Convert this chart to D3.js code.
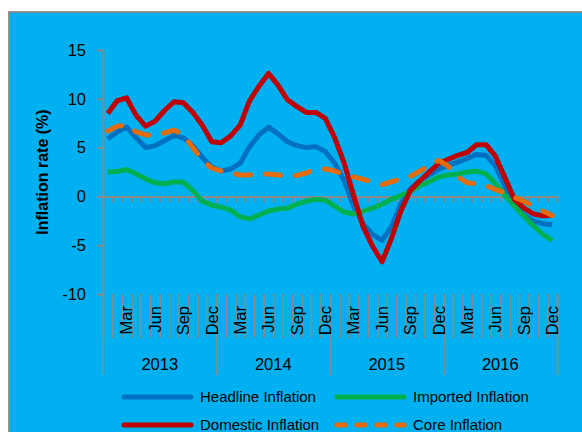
<!DOCTYPE html>
<html>
<head>
<meta charset="utf-8">
<script src="https://cdn.jsdelivr.net/npm/d3@7"></script>
<style>
  body { margin: 0; background: #fff; }
  svg { display: block; font-family: "Liberation Sans", Arial, sans-serif; }
</style>
</head>
<body>
<div id="chart"></div>
<script>
"use strict";

const width = 582,
      height = 432;

// categories: monthly, Jan 2013 .. Dec 2016
const years = [2013, 2014, 2015, 2016];
const monthNames = ["Jan", "Feb", "Mar", "Apr", "May", "Jun", "Jul", "Aug", "Sep", "Oct", "Nov", "Dec"];
const shownMonths = ["Mar", "Jun", "Sep", "Dec"];
const yTicks = [-10, -5, 0, 5, 10, 15];

const headline = [5.9, 6.6, 7.1, 6.0, 5.0, 5.2, 5.7, 6.25, 6.0, 5.2, 4.0, 3.0,
                  2.6, 2.8, 3.4, 5.1, 6.3, 7.1, 6.4, 5.6, 5.2, 5.0, 5.1, 4.6,
                  3.4, 1.6, -1.0, -2.8, -3.9, -4.5, -3.1, -0.7, 0.8, 1.6, 2.2, 2.8,
                  3.2, 3.5, 3.9, 4.3, 4.2, 3.1, 1.0, -0.7, -1.9, -2.5, -2.8, -2.9];
const imported = [2.5, 2.55, 2.75, 2.3, 1.8, 1.4, 1.3, 1.5, 1.45, 0.6, -0.5, -0.9,
                  -1.1, -1.4, -2.1, -2.3, -1.9, -1.5, -1.3, -1.2, -0.8, -0.5, -0.3, -0.4,
                  -1.0, -1.6, -1.8, -1.5, -1.2, -0.8, -0.3, 0.1, 0.5, 1.1, 1.5, 2.0,
                  2.2, 2.3, 2.5, 2.6, 2.3, 1.3, 0.1, -1.0, -2.0, -3.0, -3.9, -4.5];
const domestic = [8.5, 9.8, 10.1, 8.3, 7.2, 7.7, 8.8, 9.7, 9.6, 8.6, 7.3, 5.6,
                  5.5, 6.2, 7.3, 9.8, 11.3, 12.6, 11.4, 9.9, 9.2, 8.6, 8.6, 8.0,
                  6.0, 3.4, 0.1, -3.1, -5.1, -6.7, -4.3, -1.5, 0.6, 1.6, 2.5, 3.4,
                  3.8, 4.2, 4.5, 5.3, 5.3, 4.1, 1.9, -0.3, -1.2, -1.8, -2.0, -1.9];
const core = [6.7, 7.2, 7.3, 6.6, 6.3, 6.3, 6.5, 6.8, 6.3, 5.0, 3.7, 2.9,
              2.6, 2.4, 2.2, 2.2, 2.25, 2.3, 2.2, 2.05, 2.15, 2.4, 2.8, 2.8,
              2.6, 2.25, 2.0, 1.75, 1.45, 1.2, 1.5, 1.8, 2.05, 2.6, 3.2, 3.7,
              3.1, 2.0, 1.4, 1.3, 1.1, 0.7, 0.35, -0.1, -0.5, -1.0, -1.5, -1.95];

const categories = years.flatMap(y => monthNames.map(m => m + " " + y));

const series = [
  { name: "Headline Inflation", values: headline, color: "#0070C0", dash: null },
  { name: "Imported Inflation", values: imported, color: "#00B050", dash: null },
  { name: "Domestic Inflation", values: domestic, color: "#C00000", dash: null },
  { name: "Core Inflation", values: core, color: "#E46C0A", dash: "15,15" }
];

const axisColor = "#8a8a8a";
const plot = { left: 103, right: 557, top: 50, bottom: 294 };

const svg = d3.select("#chart")
  .append("svg")
  .attr("width", width)
  .attr("height", height);

// chart area background with grey frame
svg.append("rect")
  .attr("x", 9)
  .attr("y", 12)
  .attr("width", width + 20)
  .attr("height", height + 20)
  .attr("fill", "#00B0F0")
  .attr("stroke", axisColor)
  .attr("stroke-width", 1.8);

const x = d3.scaleBand()
  .domain(categories)
  .range([plot.left, plot.right])
  .padding(0);

// boundary scale, for tick marks between categories
const xb = d3.scaleLinear()
  .domain([0, categories.length])
  .range([plot.left, plot.right]);

const y = d3.scaleLinear()
  .domain([-10, 15])
  .range([plot.bottom, plot.top]);

// y axis (plain hyphen for negatives, like the original)
const yAxis = svg.append("g")
  .attr("transform", `translate(${plot.left},0)`)
  .call(d3.axisLeft(y).tickValues(yTicks).tickFormat(d => String(d))
    .tickSize(6).tickPadding(11).tickSizeOuter(0));
yAxis.select(".domain").attr("stroke", axisColor).attr("stroke-width", 2);
yAxis.selectAll(".tick line").attr("stroke", axisColor).attr("stroke-width", 2);
yAxis.selectAll(".tick text")
  .attr("fill", "#000")
  .style("font-size", "16.5px")
  .style("font-family", "'Liberation Sans', Arial, sans-serif");

// horizontal axis line at zero with small ticks
const xAxis = svg.append("g")
  .attr("transform", `translate(0,${y(0)})`)
  .call(d3.axisBottom(xb).tickValues(d3.range(categories.length + 1)).tickSize(6).tickFormat("").tickSizeOuter(0));
xAxis.select(".domain").attr("stroke", axisColor).attr("stroke-width", 2);
xAxis.selectAll(".tick line").attr("stroke", axisColor).attr("stroke-width", 1.6);

// lower category separators (months)
const lowAxis = svg.append("g")
  .attr("transform", `translate(0,${plot.bottom})`)
  .call(d3.axisBottom(xb).tickValues(d3.range(categories.length + 1)).tickSize(44).tickFormat(""));
lowAxis.select(".domain").remove();
lowAxis.selectAll(".tick line").attr("stroke", axisColor).attr("stroke-width", 1.6);

// year separators
const yearAxis = svg.append("g")
  .attr("transform", `translate(0,${plot.bottom})`)
  .call(d3.axisBottom(xb).tickValues(d3.range(0, categories.length + 1, 12)).tickSize(81).tickFormat(""));
yearAxis.select(".domain").remove();
yearAxis.selectAll(".tick line").attr("stroke", axisColor).attr("stroke-width", 1.6);

// month labels (rotated)
svg.append("g")
  .selectAll("text")
  .data(categories.filter(c => shownMonths.includes(c.split(" ")[0])))
  .join("text")
    .attr("transform", d => `translate(${x(d) + x.bandwidth() / 2},306) rotate(-90)`)
    .attr("text-anchor", "end")
    .attr("dy", "0.35em")
    .attr("fill", "#000")
    .style("font-size", "16.5px")
    .text(d => d.split(" ")[0]);

// year labels
svg.append("g")
  .selectAll("text")
  .data(years)
  .join("text")
    .attr("x", (d, i) => (xb(i * 12) + xb(i * 12 + 12)) / 2)
    .attr("y", 370)
    .attr("text-anchor", "middle")
    .attr("fill", "#000")
    .style("font-size", "16.5px")
    .text(d => d);

// y axis title
svg.append("text")
  .attr("transform", `translate(42,${(plot.top + plot.bottom) / 2}) rotate(-90)`)
  .attr("text-anchor", "middle")
  .attr("dy", "0.35em")
  .attr("fill", "#000")
  .style("font-size", "16px")
  .style("font-weight", "bold")
  .text("Inflation rate (%)");

// lines
const line = d3.line()
  .x((d, i) => x(categories[i]) + x.bandwidth() / 2)
  .y(d => y(d));

svg.append("g")
  .selectAll("path")
  .data(series)
  .join("path")
    .attr("d", d => line(d.values))
    .attr("fill", "none")
    .attr("stroke", d => d.color)
    .attr("stroke-width", 5)
    .attr("stroke-linejoin", "round")
    .attr("stroke-linecap", d => d.dash ? "round" : "butt")
    .attr("stroke-dasharray", d => d.dash);

// legend
const legendPos = [[122, 397], [335, 397], [122, 425], [335, 425]];
const legend = svg.append("g")
  .selectAll("g")
  .data(series)
  .join("g")
    .attr("transform", (d, i) => `translate(${legendPos[i][0]},${legendPos[i][1]})`);

legend.append("line")
  .attr("x1", 2)
  .attr("x2", 69)
  .attr("stroke", d => d.color)
  .attr("stroke-width", 5)
  .attr("stroke-linecap", "round")
  .attr("stroke-dasharray", d => d.dash ? "8,12" : null);

legend.append("text")
  .attr("x", 78)
  .attr("dy", "0.35em")
  .attr("fill", "#000")
  .style("font-size", "15px")
  .text(d => d.name);
</script>
</body>
</html>
